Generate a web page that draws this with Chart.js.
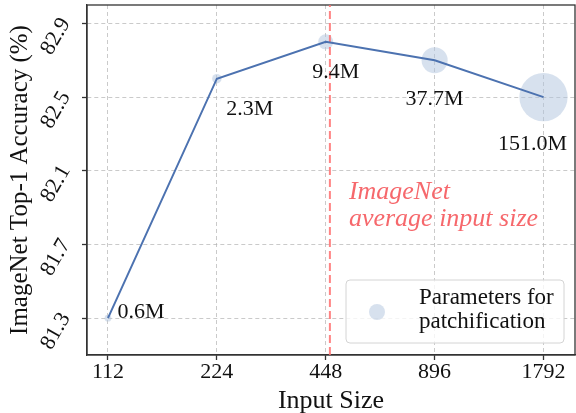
<!DOCTYPE html>
<html>
<head>
<meta charset="utf-8">
<script src="https://cdn.jsdelivr.net/npm/chart.js@4/dist/chart.umd.min.js"></script>
<style>
  body { margin: 0; background: #fff; }
  #wrap { width: 576px; height: 413px; }
</style>
</head>
<body>
<div id="wrap"><canvas id="accChart"></canvas></div>
<script>
  // values
  const inputSizes = [112, 224, 448, 896, 1792];
  const accuracy = [81.3, 82.6, 82.8, 82.7, 82.5];
  const paramsM = [0.6, 2.3, 9.4, 37.7, 151.0];
  const paramLabels = ['0.6M', '2.3M', '9.4M', '37.7M', '151.0M'];
  const yTicks = [81.3, 81.7, 82.1, 82.5, 82.9];
  const avgInputSize = 460;
  const yMin = 81.1, yMax = 83.0;

  const serif = '"Liberation Serif", "Times New Roman", serif';
  const bubbleColor = 'rgba(176, 196, 222, 0.5)';
  const redText = 'rgb(246, 104, 108)';

  const bubbles = inputSizes.map((s, i) => ({ x: s, y: accuracy[i], r: 2 + 1.8 * Math.sqrt(paramsM[i]) }));
  const linePts = inputSizes.map((s, i) => ({ x: s, y: accuracy[i] }));

  const extras = {
    id: 'extras',
    beforeDatasetsDraw(chart) {
      const { ctx, chartArea: a } = chart;
      ctx.save();
      ctx.strokeStyle = '#333';
      ctx.lineWidth = 1.3;
      ctx.strokeRect(a.left, a.top, a.right - a.left, a.bottom - a.top);
      ctx.restore();
    },
    afterDatasetsDraw(chart) {
      const { ctx, chartArea: a, scales: { x, y } } = chart;
      ctx.save();
      // point labels
      const offs = [[33, -6], [33, 31], [10, 30], [0, 39], [-11, 47]];
      ctx.font = '22px ' + serif;
      ctx.fillStyle = '#111';
      ctx.textAlign = 'center';
      ctx.textBaseline = 'middle';
      paramLabels.forEach((t, i) => {
        const px = x.getPixelForValue(inputSizes[i]);
        const py = y.getPixelForValue(accuracy[i]);
        ctx.fillText(t, px + offs[i][0], py + offs[i][1]);
      });
      // red annotation
      const lx = x.getPixelForValue(avgInputSize);
      const ly = y.getPixelForValue(82.1);
      ctx.font = 'italic 26px ' + serif;
      ctx.fillStyle = redText;
      ctx.textAlign = 'left';
      ctx.textBaseline = 'alphabetic';
      ctx.fillText('ImageNet', lx + 19, ly + 28);
      ctx.fillText('average input size', lx + 19, ly + 55);
      // legend box
      const bx = a.right - 229, by = a.bottom - 75, bw = 218, bh = 63;
      ctx.beginPath();
      ctx.roundRect(bx, by, bw, bh, 4);
      ctx.fillStyle = 'rgba(255,255,255,0.8)';
      ctx.fill();
      ctx.strokeStyle = '#d4d4d4';
      ctx.lineWidth = 1;
      ctx.stroke();
      ctx.beginPath();
      ctx.arc(bx + 31, by + 32, 8, 0, Math.PI * 2);
      ctx.fillStyle = bubbleColor;
      ctx.fill();
      ctx.font = '23px ' + serif;
      ctx.fillStyle = '#111';
      ctx.textBaseline = 'middle';
      ctx.fillText('Parameters for', bx + 73, by + 18);
      ctx.fillText('patchification', bx + 73, by + 42);
      ctx.restore();
    }
  };

  const ctx = document.getElementById('accChart').getContext('2d');

  new Chart(ctx, {
    type: 'line',
    data: {
      datasets: [
        {
          type: 'line',
          label: 'accuracy',
          data: linePts,
          borderColor: '#4c72b0',
          borderWidth: 2,
          pointRadius: 0,
          tension: 0,
          order: 0
        },
        {
          type: 'line',
          label: 'avg',
          data: [{ x: avgInputSize, y: yMin }, { x: avgInputSize, y: yMax }],
          borderColor: 'rgba(255, 110, 110, 0.85)',
          borderWidth: 2,
          borderDash: [8, 4],
          pointRadius: 0,
          order: 1
        },
        {
          type: 'bubble',
          label: 'Parameters for patchification',
          data: bubbles,
          backgroundColor: bubbleColor,
          borderWidth: 0,
          order: 2
        }
      ]
    },
    options: {
      responsive: true,
      maintainAspectRatio: false,
      animation: false,
      layout: { autoPadding: false, padding: { top: 5, right: 1, left: 0, bottom: 0 } },
      plugins: {
        legend: { display: false },
        tooltip: { enabled: false }
      },
      scales: {
        x: {
          type: 'logarithmic',
          min: 98,
          max: 2190,
          afterBuildTicks: s => { s.ticks = inputSizes.map(v => ({ value: v })); },
          afterFit: s => { s.height = 58; s.paddingLeft = 0; s.paddingRight = 0; },
          ticks: {
            callback: v => String(v),
            color: '#111',
            font: { family: serif, size: 22, lineHeight: 1 },
            padding: 1,
            maxRotation: 0,
            minRotation: 0
          },
          grid: {
            color: 'rgba(180,180,180,0.7)',
            lineWidth: 1,
            tickLength: 5,
            tickColor: '#333',
            tickWidth: 1.3,
            tickBorderDash: []
          },
          border: { color: '#333', width: 1.3, dash: [4, 3] },
          title: {
            display: true,
            text: 'Input Size',
            color: '#111',
            font: { family: serif, size: 26, lineHeight: 1 },
            padding: { top: 0, bottom: -1 }
          }
        },
        y: {
          min: yMin,
          max: yMax,
          afterBuildTicks: s => { s.ticks = yTicks.map(v => ({ value: v })); },
          afterFit: s => { s.width = 87; s.paddingTop = 0; s.paddingBottom = 0; },
          ticks: {
            callback: v => v.toFixed(1),
            color: '#111',
            font: { family: serif, size: 22 },
            minRotation: 60,
            maxRotation: 60,
            crossAlign: 'center',
            padding: 7,
            labelOffset: 13
          },
          grid: {
            color: 'rgba(180,180,180,0.7)',
            lineWidth: 1,
            tickLength: 5,
            tickColor: '#333',
            tickWidth: 1.3,
            tickBorderDash: []
          },
          border: { color: '#333', width: 1.3, dash: [4, 3] },
          title: {
            display: true,
            text: 'ImageNet Top-1 Accuracy (%)',
            color: '#111',
            font: { family: serif, size: 25, lineHeight: 1 },
            padding: { top: 8, bottom: 0 }
          }
        }
      }
    },
    plugins: [extras]
  });
</script>
</body>
</html>
